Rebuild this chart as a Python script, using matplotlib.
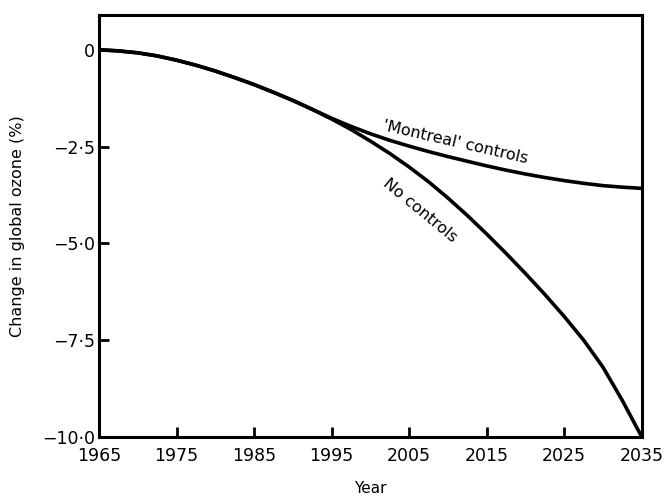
import matplotlib.pyplot as plt

years = [1965, 1967.5, 1970, 1972.5, 1975, 1977.5, 1980, 1982.5, 1985, 1987.5,
         1990, 1992.5, 1995, 1997.5, 2000, 2002.5, 2005, 2007.5, 2010, 2012.5,
         2015, 2017.5, 2020, 2022.5, 2025, 2027.5, 2030, 2032.5, 2035]
no_controls = [0, -0.03, -0.08, -0.16, -0.27, -0.40, -0.55, -0.72, -0.90, -1.10,
               -1.31, -1.54, -1.79, -2.06, -2.36, -2.68, -3.03, -3.41, -3.83, -4.28,
               -4.76, -5.26, -5.78, -6.32, -6.89, -7.50, -8.20, -9.06, -10.0]
montreal = [0, -0.03, -0.08, -0.16, -0.27, -0.40, -0.55, -0.72, -0.90, -1.10,
            -1.31, -1.54, -1.77, -1.98, -2.17, -2.34, -2.49, -2.63, -2.76, -2.88,
            -3.00, -3.11, -3.21, -3.30, -3.38, -3.45, -3.51, -3.55, -3.58]

xticks = [1965, 1975, 1985, 1995, 2005, 2015, 2025, 2035]
yticks = [0, -2.5, -5.0, -7.5, -10.0]
ytick_labels = ["0", "\u22122\u00b75", "\u22125\u00b70", "\u22127\u00b75", "\u221210\u00b70"]

fig = plt.figure(figsize=(6.65, 4.97), dpi=100)
ax = fig.add_axes([0.149, 0.121, 0.816, 0.849])

ax.plot(years, no_controls, color="black", lw=2.6, solid_joinstyle="round")
ax.plot(years, montreal, color="black", lw=2.6, solid_joinstyle="round")

ax.set_xlim(1965, 2035)
ax.set_ylim(-10.0, 0.9)
ax.set_xticks(xticks)
ax.set_yticks(yticks)
ax.set_yticklabels(ytick_labels)

for s in ax.spines.values():
    s.set_linewidth(2.2)
ax.tick_params(direction="in", length=7, width=2, labelsize=12.5)
ax.tick_params(axis="x", pad=7)
ax.tick_params(axis="y", pad=3)

ax.set_xlabel("Year", fontsize=11, labelpad=12)
ax.set_ylabel("Change in global ozone (%)", fontsize=11.5, labelpad=12)

ax.text(2011.0, -2.38, "'Montreal' controls", rotation=-13, fontsize=11.5,
        ha="center", va="center")
ax.text(2006.4, -4.15, "No controls", rotation=-39.5, fontsize=11.5,
        ha="center", va="center")

fig.savefig("out.png", dpi=100)
